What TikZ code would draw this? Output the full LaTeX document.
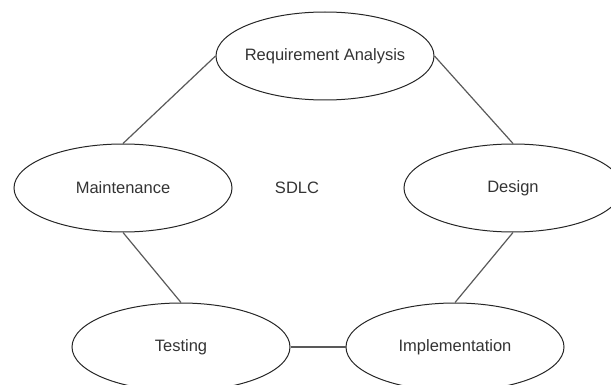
\documentclass[tikz,border=0pt]{standalone}
\usepackage{fontspec}
\setmainfont{Liberation Sans}
\usetikzlibrary{shapes.geometric}

\tikzstyle{phase}=[
    ellipse,
    draw=black!85,
    line width=1pt,
    minimum width=218pt,
    minimum height=88pt,
    inner xsep=-6pt,
    inner ysep=0pt,
    text=black!80,
    font=\fontsize{16.5}{19}\selectfont
]
\tikzstyle{link}=[
    draw=black!65,
    line width=1.2pt
]

\begin{document}
\begin{tikzpicture}[x=1pt,y=-1pt]
	\useasboundingbox (0,0) rectangle (611,385);
	% PHASES
	\node (req) [phase] at (325,56) {Requirement Analysis};
	\node (design) [phase] at (513,188) {Design};
	\node (impl) [phase] at (455,347) {Implementation};
	\node (test) [phase] at (181,347) {Testing};
	\node (maint) [phase] at (123,188) {Maintenance};
	% CENTRE
	\node (sdlc) [text=black!80, font=\fontsize{16.5}{19}\selectfont] at (297,188) {SDLC};

	\path[-]
	% Top
	(req.west) edge[link] (maint.north)
	(req.east) edge[link] (design.north)

	% Sides
	(maint.south) edge[link] (test.north)
	(design.south) edge[link] (impl.north)

	% Bottom
	(test.east) edge[link] (impl.west)
	;
\end{tikzpicture}
\end{document}
